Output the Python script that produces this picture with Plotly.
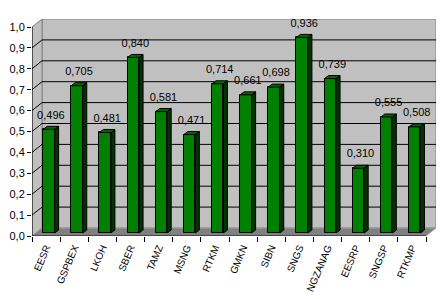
import plotly.graph_objects as go

categories = ["EESR", "GSPBEX", "LKOH", "SBER", "TAMZ", "MSNG", "RTKM", "GMKN",
              "SIBN", "SNGS", "NGZANAG", "EESRP", "SNGSP", "RTKMP"]
values = [0.496, 0.705, 0.481, 0.840, 0.581, 0.471, 0.714, 0.661,
          0.698, 0.936, 0.739, 0.310, 0.555, 0.508]
y_ticks = [i / 10 for i in range(11)]

# geometry (data units)
n = len(categories)
W_PX, H_PX = 447, 299
L, R, T, B = 32, 11, 19, 63
pxx = (W_PX - L - R) / (n + 10 / 28.14)
pxy = (H_PX - T - B) / (1 + 8 / 209)
DX = 10 / pxx
DY = 8 / pxy
FX, FY = 2.8 / pxx, 3 / pxy       # bar front-face depth shift
BX, BY = 4 / pxx, 3 / pxy         # bar depth
BW = 11.5 / pxx                   # bar width
LBL = 5 / pxy                     # label lift

x0, x1 = 0.5, n + 0.5
xs = list(range(1, n + 1))

shapes = []
# back wall
shapes.append(dict(type="rect", xref="x", yref="y", x0=x0 + DX, x1=x1 + DX, y0=DY, y1=1 + DY,
                   fillcolor="#C0C0C0", line=dict(color="#808080", width=1), layer="below"))
# left wall
shapes.append(dict(type="path", xref="x", yref="y",
                   path=f"M {x0},0 L {x0+DX},{DY} L {x0+DX},{1+DY} L {x0},1 Z",
                   fillcolor="#C0C0C0", line=dict(color="#808080", width=1), layer="below"))
# floor
shapes.append(dict(type="path", xref="x", yref="y",
                   path=f"M {x0},0 L {x1},0 L {x1+DX},{DY} L {x0+DX},{DY} Z",
                   fillcolor="#808080", line=dict(color="#A0A0A0", width=1), layer="below"))
# gridlines
for t in y_ticks[1:-1]:
    shapes.append(dict(type="line", xref="x", yref="y", x0=x0 + DX, x1=x1 + DX, y0=t + DY, y1=t + DY,
                       line=dict(color="black", width=1), layer="below"))
    shapes.append(dict(type="line", xref="x", yref="y", x0=x0, x1=x0 + DX, y0=t, y1=t + DY,
                       line=dict(color="black", width=1), layer="below"))
# axis lines
shapes.append(dict(type="line", xref="x", yref="y", x0=x0, x1=x0, y0=0, y1=1,
                   line=dict(color="black", width=1)))
shapes.append(dict(type="line", xref="x", yref="y", x0=x0, x1=x1, y0=0, y1=0,
                   line=dict(color="black", width=1)))

fig = go.Figure()

# front faces
fig.add_trace(go.Bar(x=[x + FX for x in xs], y=values, base=[FY] * n, width=BW,
                     marker=dict(color="#008000", line=dict(color="black", width=1)),
                     showlegend=False, hoverinfo="skip"))

# side and top faces
for x, v in zip(xs, values):
    xl = x + FX - BW / 2
    xr = x + FX + BW / 2
    yb = FY
    yt = FY + v
    fig.add_trace(go.Scatter(
        x=[xr, xr + BX, xr + BX, xr, xr], y=[yb, yb + BY, yt + BY, yt, yb],
        fill="toself", fillcolor="#003300", mode="lines",
        line=dict(color="black", width=1), showlegend=False, hoverinfo="skip"))
    fig.add_trace(go.Scatter(
        x=[xl, xl + BX, xr + BX, xr, xl], y=[yt, yt + BY, yt + BY, yt, yt],
        fill="toself", fillcolor="#006A00", mode="lines",
        line=dict(color="black", width=1), showlegend=False, hoverinfo="skip"))

# data labels
fig.add_trace(go.Scatter(
    x=[x + FX + BX / 2 for x in xs], y=[v + FY + BY + LBL for v in values],
    mode="text", text=[f"{v:.3f}".replace(".", ",") for v in values],
    textposition="top center", textfont=dict(family="Arial", size=11, color="black"),
    cliponaxis=False, showlegend=False, hoverinfo="skip"))

fig.update_layout(
    width=W_PX, height=H_PX,
    margin=dict(l=L, r=R, t=T, b=B, autoexpand=False),
    paper_bgcolor="white", plot_bgcolor="white",
    separators=",.",
    shapes=shapes,
    bargap=0,
    font=dict(family="Arial", size=11, color="black"),
    xaxis=dict(range=[x0, x1 + DX], tickmode="array", tickvals=xs, ticktext=categories,
               tickangle=-67, ticks="", showgrid=False, zeroline=False, showline=False,
               automargin=False, ticklabelstandoff=3,
               tickfont=dict(family="Arial", size=10),
               minor=dict(tickmode="array", tickvals=[x - 0.5 for x in xs] + [x1],
                          ticks="outside", ticklen=5, tickcolor="black", tickwidth=1, showgrid=False)),
    yaxis=dict(range=[0, 1 + DY], tickmode="array", tickvals=y_ticks, tickformat=".1f",
               ticks="outside", ticklen=4, tickcolor="black", tickwidth=1,
               showgrid=False, zeroline=False, showline=False, automargin=False,
               tickfont=dict(family="Arial", size=11)),
)

fig.write_html("out.html")
